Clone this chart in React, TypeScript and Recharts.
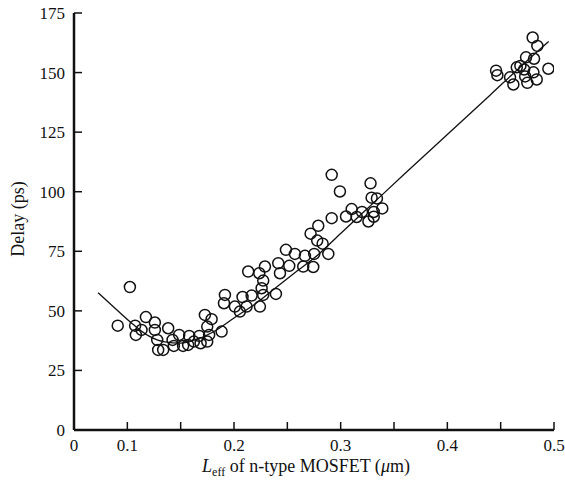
import React from 'react';
import { ScatterChart, Scatter, XAxis, YAxis } from 'recharts';

// measured points: L_eff (um), delay (ps)
const lengths = [
  0.091, 0.1024, 0.1073, 0.1174, 0.108, 0.1133, 0.1258, 0.1258, 0.128, 0.1289,
  0.1336, 0.1383, 0.1424, 0.1436, 0.1486, 0.1523, 0.158, 0.157, 0.1624, 0.1674,
  0.1687, 0.1727, 0.179, 0.1749, 0.1749, 0.1767, 0.1884, 0.1915, 0.1906, 0.2008,
  0.208, 0.2055, 0.2133, 0.2165, 0.2243, 0.2118, 0.2237, 0.229, 0.2274, 0.2259,
  0.2274, 0.2393, 0.2415, 0.2431, 0.2487, 0.2518, 0.2571, 0.2649, 0.2665, 0.2743,
  0.2752, 0.2718, 0.278, 0.2831, 0.2884, 0.279, 0.2916, 0.2916, 0.2993, 0.305,
  0.3103, 0.315, 0.32, 0.326, 0.328, 0.329, 0.334, 0.331, 0.339, 0.331,
  0.4457, 0.4469, 0.4588, 0.4619, 0.4651, 0.4685, 0.472, 0.473, 0.4738, 0.475,
  0.48, 0.4844, 0.4813, 0.4807, 0.4838, 0.4947,
];
const delays = [
  43.8, 60.0, 43.8, 47.4, 39.9, 42.0, 45.1, 42.0, 37.8, 33.6,
  33.6, 42.7, 37.8, 35.3, 39.9, 35.3, 39.5, 35.7, 37.1, 39.5,
  36.4, 48.3, 46.5, 43.4, 37.1, 39.9, 41.3, 56.7, 53.2, 51.8,
  55.8, 49.7, 66.5, 56.4, 51.8, 51.8, 65.8, 68.6, 62.7, 59.5,
  56.7, 57.1, 70.0, 65.8, 75.6, 68.9, 73.9, 68.6, 73.1, 68.4,
  73.9, 82.4, 79.5, 78.2, 73.9, 85.7, 88.9, 107.1, 100.1, 89.6,
  92.7, 89.4, 91.5, 87.5, 103.5, 97.5, 97.2, 91.5, 93.0, 89.5,
  150.8, 148.9, 148.0, 145.0, 152.2, 152.8, 151.3, 148.4, 156.4, 145.7,
  164.7, 161.2, 155.8, 150.1, 147.1, 151.6,
];

// fitted curve
const fitLengths = [0.0726, 0.09, 0.105, 0.12, 0.135, 0.15, 0.165, 0.18, 0.2, 0.22, 0.24, 0.26, 0.28, 0.3, 0.33, 0.36, 0.4, 0.44, 0.47, 0.495];
const fitDelays = [57.6, 50.5, 44.5, 39.5, 37.0, 36.5, 38.0, 41.0, 47.0, 53.0, 60.0, 67.0, 74.0, 82.5, 95.0, 107.5, 124.0, 140.5, 153.0, 163.0];

const xTicks = [0.05, 0.1, 0.15, 0.2, 0.25, 0.3, 0.35, 0.4, 0.45, 0.5];
const xTickLabels = ['0', '0.1', '', '0.2', '', '0.3', '', '0.4', '', '0.5'];
const yTicks = [0, 25, 50, 75, 100, 125, 150, 175];

const points = lengths.map((x, i) => ({ x, y: delays[i] }));
const fit = fitLengths.map((x, i) => ({ x, y: fitDelays[i] }));

const font = '"Liberation Serif", "Times New Roman", serif';
const ink = '#111';
const tickStyle = { fontFamily: font, fontSize: 17, fill: ink };

const Ring = (props: any) => (
  <circle cx={props.cx} cy={props.cy} r={5.5} fill="none" stroke={ink} strokeWidth={1.5} />
);

export default function App() {
  return (
    <div style={{ position: 'absolute', left: 0, top: 0, width: 565, height: 480, background: '#fff' }}>
      <ScatterChart width={565} height={480} margin={{ top: 13, right: 11, bottom: 10, left: 0 }}>
        <XAxis
          xAxisId="b"
          type="number"
          dataKey="x"
          domain={[0.05, 0.5]}
          ticks={xTicks}
          tickFormatter={(v: number) => xTickLabels[xTicks.indexOf(v)] ?? ''}
          tickSize={-8}
          tickMargin={17}
          height={40}
          stroke={ink}
          axisLine={{ stroke: ink, strokeWidth: 2.5 }}
          tickLine={{ stroke: ink, strokeWidth: 1.5 }}
          tick={tickStyle}
          allowDataOverflow
          label={{
            content: () => (
              <text x={306} y={472} textAnchor="middle" fontFamily={font} fontSize={18} fill={ink}>
                <tspan fontStyle="italic">L</tspan>
                <tspan fontSize={12} dy={4}>eff</tspan>
                <tspan dy={-4}> of n-type MOSFET  (</tspan>
                <tspan fontStyle="italic">μ</tspan>
                <tspan>m)</tspan>
              </text>
            ),
          }}
        />
        <XAxis xAxisId="t" orientation="top" type="number" domain={[0.05, 0.5]} height={0} tick={false} tickLine={false} axisLine={{ stroke: ink, strokeWidth: 2 }} />
        <YAxis
          yAxisId="l"
          type="number"
          dataKey="y"
          domain={[0, 175]}
          ticks={yTicks}
          tickSize={-8}
          tickMargin={17}
          width={74}
          stroke={ink}
          axisLine={{ stroke: ink, strokeWidth: 2.5 }}
          tickLine={{ stroke: ink, strokeWidth: 1.5 }}
          tick={tickStyle}
          allowDataOverflow
          label={{
            content: () => (
              <text x={24} y={219} transform="rotate(-90 24 219)" textAnchor="middle" fontFamily={font} fontSize={18} fill={ink}>
                Delay  (ps)
              </text>
            ),
          }}
        />
        <YAxis yAxisId="r" orientation="right" type="number" domain={[0, 175]} width={0} tick={false} tickLine={false} axisLine={{ stroke: ink, strokeWidth: 2 }} />
        <Scatter
          xAxisId="b"
          yAxisId="l"
          data={fit}
          line={{ stroke: ink, strokeWidth: 1.3 }}
          lineJointType="monotoneX"
          shape={() => <g />}
          isAnimationActive={false}
        />
        <Scatter xAxisId="b" yAxisId="l" data={points} shape={Ring} isAnimationActive={false} />
      </ScatterChart>
    </div>
  );
}
